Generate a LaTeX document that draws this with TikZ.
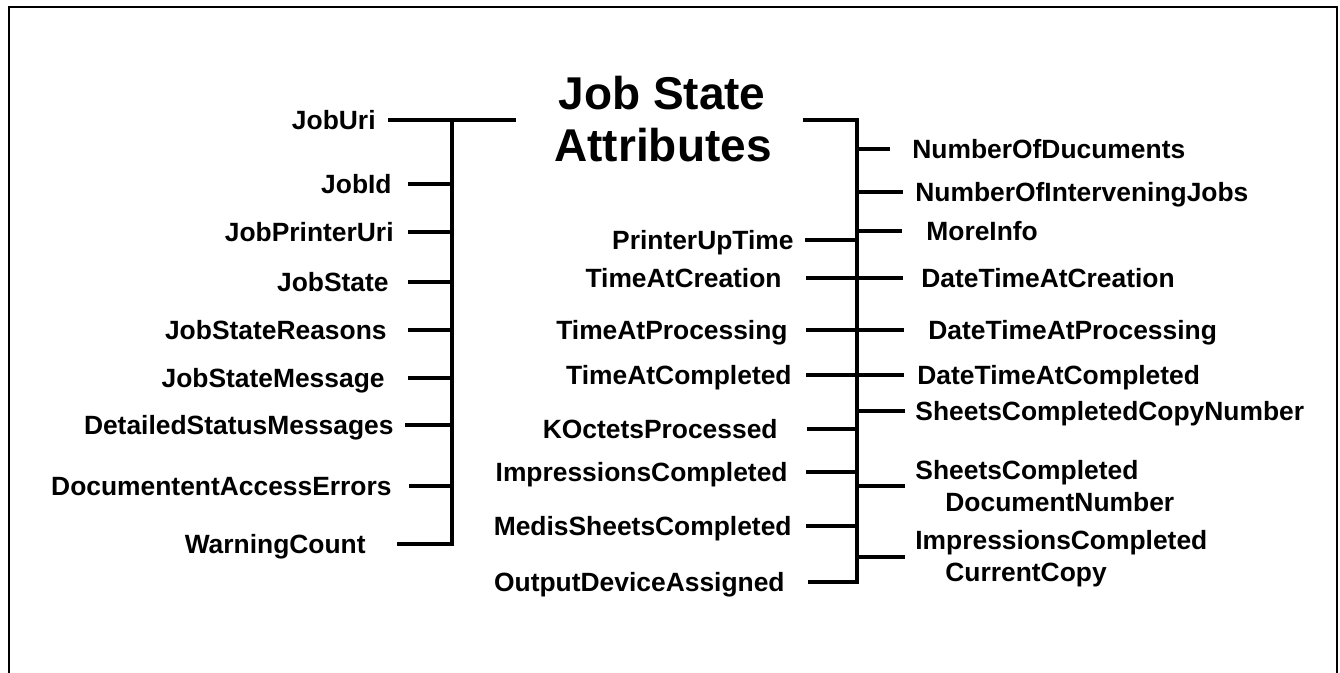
\documentclass[tikz,border=0pt]{standalone}
\usepackage{fontspec}
\setmainfont{Liberation Sans}
\begin{document}
\begin{tikzpicture}
[x=0.5pt,y=-0.5pt,%
  labeldecorate/.style={font=\fontsize{13.2}{16}\selectfont\bfseries,inner sep=0pt,yshift=-4.75pt},%
  leftdecorate/.style={labeldecorate,anchor=base east},%
  rightdecorate/.style={labeldecorate,anchor=base west},%
  twolinedecorate/.style={font=\fontsize{13.2}{16}\selectfont\bfseries,inner sep=0pt,anchor=west,align=left},%
  titledecorate/.style={font=\fontsize{23}{28.5}\selectfont\bfseries,inner sep=0pt,anchor=base},%
  linedecorate/.style={-,line width=1.6pt},%
  framedecorate/.style={line width=1.1pt}]
\useasboundingbox (0,0) rectangle (1340,673);
%% frame
\draw[framedecorate] (9,673) -- (9,7) -- (1337,7) -- (1337,673);
%% title
\node (title) at (662,110) [titledecorate] {Job State};
\node (title2) at (663,162) [titledecorate] {Attributes};
%% spines
\coordinate (ltop) at (452,120);
\coordinate (lend) at (516,120);
\coordinate (rtop) at (857,120);
\coordinate (rstart) at (803,120);
%% left column
\foreach \nodename/\lx/\tx/\y in {
  JobUri/376/388/120, JobId/392/408/184, JobPrinterUri/394/408/232,
  JobState/389/408/282, JobStateReasons/387/408/330,
  JobStateMessage/385/408/378, DetailedStatusMessages/394/405/425,
  DocumententAccessErrors/392/409/486, WarningCount/366/397/544}
{
  \node (\nodename) at (\lx,\y) [leftdecorate] {\nodename};
  \coordinate (t\nodename) at (\tx,\y);
}
%% middle column
\foreach \nodename/\lx/\tx/\y in {
  PrinterUpTime/794/805/240, TimeAtCreation/782/806/278,
  TimeAtProcessing/788/806/330, TimeAtCompleted/792/806/375,
  KOctetsProcessed/778/807/429, ImpressionsCompleted/788/806/472,
  MedisSheetsCompleted/792/806/526, OutputDeviceAssigned/785/808/582}
{
  \node (\nodename) at (\lx,\y) [leftdecorate] {\nodename};
  \coordinate (t\nodename) at (\tx,\y);
}
%% right column
\foreach \nodename/\lx/\tx/\y in {
  NumberOfDucuments/912/890/149, NumberOfInterveningJobs/915/903/192,
  MoreInfo/926/902/231, DateTimeAtCreation/921/903/278,
  DateTimeAtProcessing/928/904/330, DateTimeAtCompleted/917/904/375,
  SheetsCompletedCopyNumber/915/905/411}
{
  \node (\nodename) at (\lx,\y) [rightdecorate] {\nodename};
  \coordinate (t\nodename) at (\tx,\y);
}
\node (SheetsCompletedDocumentNumber) at (915,486) [twolinedecorate]
  {SheetsCompleted\\\hspace*{15pt}DocumentNumber};
\coordinate (tSheetsCompletedDocumentNumber) at (905,486);
\node (ImpressionsCompletedCurrentCopy) at (915,559) [twolinedecorate]
  {ImpressionsCompleted\\\hspace*{15pt}CurrentCopy};
\coordinate (tImpressionsCompletedCurrentCopy) at (905,557);
%% brackets
\draw[linedecorate] (tJobUri) -- (lend);
\draw[linedecorate] (ltop) -- (ltop |- tWarningCount) -- (tWarningCount);
\draw[linedecorate] (rstart) -- (rtop) -- (rtop |- tOutputDeviceAssigned)
  -- (tOutputDeviceAssigned);
%% ticks
\path
\foreach \startnode in {JobId, JobPrinterUri, JobState, JobStateReasons,
  JobStateMessage, DetailedStatusMessages, DocumententAccessErrors} {
  (t\startnode) edge[linedecorate] (t\startnode -| ltop)
};
\path
\foreach \startnode in {PrinterUpTime, TimeAtCreation, TimeAtProcessing,
  TimeAtCompleted, KOctetsProcessed, ImpressionsCompleted,
  MedisSheetsCompleted, NumberOfDucuments, NumberOfInterveningJobs,
  MoreInfo, DateTimeAtCreation, DateTimeAtProcessing, DateTimeAtCompleted,
  SheetsCompletedCopyNumber, SheetsCompletedDocumentNumber,
  ImpressionsCompletedCurrentCopy} {
  (t\startnode) edge[linedecorate] (t\startnode -| rtop)
};
\end{tikzpicture}
\end{document}
